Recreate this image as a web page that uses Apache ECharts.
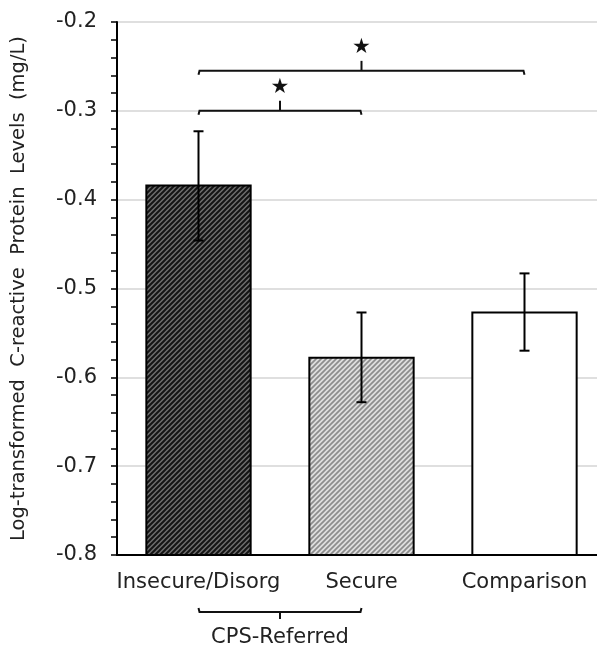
<!DOCTYPE html>
<html>
<head>
<meta charset="utf-8">
<script src="https://cdn.jsdelivr.net/npm/echarts@6/dist/echarts.min.js"></script>
<style>
* { margin: 0; padding: 0; }
html, body { background: #fff; overflow: hidden; }
</style>
</head>
<body>
<!-- plot area runs a little past the right edge, like the original figure -->
<div id="main" style="width: 606px;height: 649px;"></div>
<script>
// data
const categories = ["Insecure/Disorg", "Secure", "Comparison"];
const means = [-0.384, -0.578, -0.527];
const errLow = [-0.446, -0.628, -0.570];
const errHigh = [-0.323, -0.527, -0.483];
const yMin = -0.8, yMax = -0.2, yStep = 0.1;
// significance brackets: [from, to, level]
const sigFrom = [0, 0];
const sigTo = [1, 2];
const sigLevel = [-0.300, -0.255];
const groupLabel = "CPS-Referred";
const groupSpan = [0, 1];

const FONT = "DejaVu Sans";

// hatch fill
function hatch(bg, fg, lw) {
  const p = 5;
  const c = document.createElement("canvas");
  c.width = p; c.height = p;
  const ctx = c.getContext("2d");
  ctx.fillStyle = bg;
  ctx.fillRect(0, 0, p, p);
  ctx.strokeStyle = fg;
  ctx.lineWidth = lw;
  ctx.beginPath();
  ctx.moveTo(-1, 1); ctx.lineTo(1, -1);
  ctx.moveTo(0, p); ctx.lineTo(p, 0);
  ctx.moveTo(p - 1, p + 1); ctx.lineTo(p + 1, p - 1);
  ctx.stroke();
  return { image: c, repeat: "repeat" };
}
const fills = [hatch("#6e6e6e", "#141414", 2), hatch("#dedede", "#8c8c8c", 1.7), "#fff"];

const chart = echarts.init(document.getElementById("main"));
chart.setOption({
  animation: false,
  grid: { left: 117, right: 0, top: 22, bottom: 94 },
  xAxis: {
    type: "category",
    data: categories,
    axisLine: { lineStyle: { color: "#000", width: 2 } },
    axisTick: { alignWithLabel: true, length: 5, lineStyle: { color: "#000", width: 1.5 } },
    axisLabel: { interval: 0, color: "#222", fontFamily: FONT, fontSize: 21, margin: 17 }
  },
  yAxis: {
    type: "value",
    min: yMin, max: yMax, interval: yStep,
    name: "Log-transformed  C-reactive  Protein  Levels  (mg/L)",
    nameLocation: "middle",
    nameGap: 88,
    nameTextStyle: { color: "#222", fontFamily: FONT, fontSize: 19.5 },
    axisLine: { show: true, lineStyle: { color: "#000", width: 2 } },
    axisTick: { show: true, length: 6, lineStyle: { color: "#000", width: 1.5 } },
    minorTick: { show: true, splitNumber: 5, length: 6, lineStyle: { color: "#000", width: 1.5 } },
    splitLine: { lineStyle: { color: "#d4d4d4", width: 1.5 } },
    axisLabel: {
      color: "#222", fontFamily: FONT, fontSize: 21, margin: 20,
      formatter: v => v.toFixed(1)
    }
  },
  series: [
    {
      type: "custom",
      data: means.map((m, i) => [i, m]),
      renderItem: function (params, api) {
        const i = api.value(0);
        const top = api.coord([i, api.value(1)]);
        const base = api.coord([i, yMin]);
        const w = api.size([1, 0])[0] * 0.64;
        return {
          type: "rect",
          shape: { x: top[0] - w / 2, y: top[1], width: w, height: base[1] - top[1] },
          style: { fill: fills[i], stroke: "#000", lineWidth: 2 }
        };
      }
    },
    {
      type: "custom",
      data: errLow.map((l, i) => [i, l, errHigh[i]]),
      z: 3,
      renderItem: function (params, api) {
        const i = api.value(0);
        const lo = api.coord([i, api.value(1)]);
        const hi = api.coord([i, api.value(2)]);
        const cap = 5;
        const st = { stroke: "#000", lineWidth: 2 };
        return {
          type: "group",
          children: [
            { type: "line", shape: { x1: lo[0], y1: lo[1], x2: hi[0], y2: hi[1] }, style: st },
            { type: "line", shape: { x1: lo[0] - cap, y1: lo[1], x2: lo[0] + cap, y2: lo[1] }, style: st },
            { type: "line", shape: { x1: hi[0] - cap, y1: hi[1], x2: hi[0] + cap, y2: hi[1] }, style: st }
          ]
        };
      }
    },
    {
      type: "custom",
      data: sigFrom.map((f, k) => [f, sigTo[k], sigLevel[k]]),
      z: 3,
      renderItem: function (params, api) {
        const a = api.coord([api.value(0), api.value(2)]);
        const b = api.coord([api.value(1), api.value(2)]);
        const y = a[1], xm = (a[0] + b[0]) / 2;
        const st = { stroke: "#111", lineWidth: 2, fill: null };
        return {
          type: "group",
          children: [
            { type: "polyline", shape: { points: [[a[0], y + 4], [a[0] + 1, y], [b[0] - 1, y], [b[0], y + 4]] }, style: st },
            { type: "line", shape: { x1: xm, y1: y, x2: xm, y2: y - 10 }, style: st },
            { type: "text", x: xm, y: y - 23, style: { text: "★", fill: "#111", fontSize: 21, fontFamily: FONT, align: "center", verticalAlign: "middle" } }
          ]
        };
      }
    },
    {
      type: "custom",
      data: [[groupSpan[0], groupSpan[1]]],
      z: 3,
      renderItem: function (params, api) {
        const a = api.coord([api.value(0), yMin]);
        const b = api.coord([api.value(1), yMin]);
        const y = a[1] + 57, xm = (a[0] + b[0]) / 2;
        const st = { stroke: "#111", lineWidth: 2, fill: null };
        return {
          type: "group",
          children: [
            { type: "polyline", shape: { points: [[a[0], y - 4], [a[0] + 1, y], [b[0] - 1, y], [b[0], y - 4]] }, style: st },
            { type: "line", shape: { x1: xm, y1: y, x2: xm, y2: y + 7 }, style: st },
            { type: "text", x: xm, y: y + 26, style: { text: groupLabel, fill: "#222", fontSize: 21, fontFamily: FONT, align: "center", verticalAlign: "middle" } }
          ]
        };
      }
    }
  ]
});
</script>
</body>
</html>
